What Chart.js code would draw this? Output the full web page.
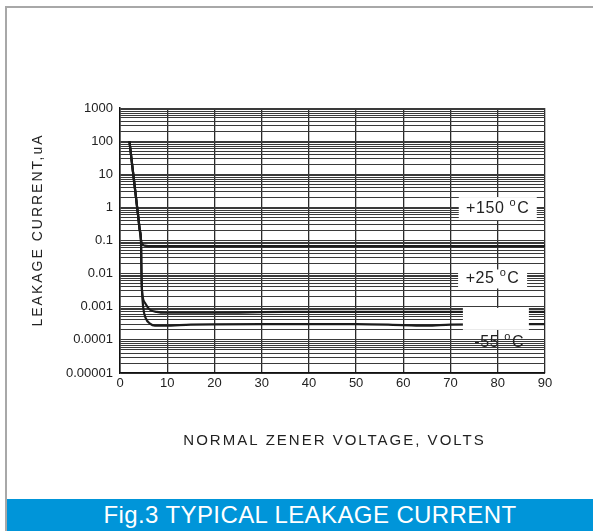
<!DOCTYPE html>
<html>
<head>
<meta charset="utf-8">
<script src="https://cdn.jsdelivr.net/npm/chart.js@4.4.1/dist/chart.umd.min.js"></script>
<style>
  html, body { margin: 0; padding: 0; background: #fff; }
  body { width: 593px; height: 531px; position: relative; overflow: hidden; font-family: "Liberation Sans", Arial, sans-serif; }
  #frame { position: absolute; left: 5px; top: 6px; width: 600px; height: 540px; border-left: 2px solid #a8a8a8; border-top: 2px solid #a8a8a8; }
  #chart { position: absolute; left: 0; top: 0; }
  #caption { position: absolute; left: 7px; top: 499px; width: 586px; height: 32px; background: #0095d9; color: #fff;
             font-size: 24px; line-height: 32px; text-align: center; padding-left: 20px; box-sizing: border-box; letter-spacing: 0.4px; }
</style>
</head>
<body>
<div id="frame"></div>
<canvas id="chart" width="593" height="531"></canvas>
<div id="caption">Fig.3 TYPICAL LEAKAGE CURRENT</div>
<script>
// y tick labels (decades only)
const currentTickLabels = ['0.00001', '0.0001', '0.001', '0.01', '0.1', '1', '10', '100', '1000'];

// +150 C
const hotVolts   = [2, 2.6, 3.2, 3.85, 4.2, 4.45, 4.7, 5.2, 6, 10, 30, 60, 90];
const hotCurrent = [100, 18, 3.4, 0.54, 0.2, 0.1, 0.078, 0.07, 0.068, 0.068, 0.068, 0.068, 0.068];

// +25 C
const roomVolts   = [2, 2.6, 3.2, 3.85, 4.2, 4.45, 4.5, 4.55, 4.65, 5.3, 6.35, 7.8, 9.5, 20, 35, 50, 65, 90];
const roomCurrent = [100, 18, 3.4, 0.54, 0.2, 0.1, 0.03, 0.01, 0.0032, 0.0013, 0.00081, 0.0007, 0.00066, 0.00066, 0.0007, 0.0007, 0.0007, 0.0007];

// -55 C
const coldVolts   = [2, 2.6, 3.2, 3.85, 4.2, 4.45, 4.5, 4.55, 4.65, 4.9, 5.45, 6.35, 7.4, 9.5, 15, 30, 50, 60, 65, 70, 90];
const coldCurrent = [100, 18, 3.4, 0.54, 0.2, 0.1, 0.03, 0.01, 0.0032, 0.001, 0.00045, 0.00031, 0.00027, 0.00027, 0.00029, 0.0003, 0.0003, 0.00028, 0.00027, 0.00029, 0.0003];

const FONT = '"Liberation Sans", Arial, sans-serif';

function toPoints(xs, ys) {
    return xs.map((v, i) => ({ x: v, y: ys[i] }));
}

function curve(label, xs, ys) {
    return {
        label: label,
        data: toPoints(xs, ys),
        borderColor: '#1c1c1c',
        borderWidth: 2.2,
        pointRadius: 0,
        fill: false,
        cubicInterpolationMode: 'monotone'
    };
}

// temperature tags drawn on top of the grid
const tagPlugin = {
    id: 'tags',
    afterDatasetsDraw(chart) {
        const ctx = chart.ctx;
        const x = chart.scales.x, y = chart.scales.y;
        const tags = [
            { text: '+150', vx: 80, vy: 0.92, w: 78, h: 23, box: true },
            { text: '+25', vx: 78.9, vy: 0.0069, w: 69, h: 19, box: true },
            { text: '', vx: 79.6, vy: 0.00043, w: 66, h: 22, box: true },
            { text: '-55', vx: 80.3, vy: 0.000082, box: false }
        ];
        ctx.save();
        tags.forEach(t => {
            const cx = x.getPixelForValue(t.vx);
            const cy = y.getPixelForValue(t.vy);
            if (t.box) {
                ctx.fillStyle = '#fff';
                ctx.fillRect(cx - t.w / 2, cy - t.h / 2, t.w, t.h);
            }
            if (!t.text) return;
            ctx.fillStyle = '#222';
            ctx.textBaseline = 'middle';
            ctx.textAlign = 'left';
            ctx.letterSpacing = '0.6px';
            ctx.font = '16px ' + FONT;
            const main = t.text + ' ';
            const w1 = ctx.measureText(main).width;
            const w3 = ctx.measureText('C').width;
            ctx.font = '11px ' + FONT;
            const w2 = ctx.measureText('o').width;
            let sx = cx - (w1 + w2 + w3 + 1) / 2;
            ctx.font = '16px ' + FONT;
            ctx.fillText(main, sx, cy);
            ctx.font = '11px ' + FONT;
            ctx.fillText('o', sx + w1, cy - 6);
            ctx.font = '16px ' + FONT;
            ctx.fillText('C', sx + w1 + w2 + 1, cy);
        });
        ctx.restore();
    },
    afterDraw(chart) {
        const ctx = chart.ctx;
        const area = chart.chartArea;
        ctx.save();
        ctx.fillStyle = '#222';
        ctx.textAlign = 'center';
        ctx.textBaseline = 'middle';
        ctx.letterSpacing = '2px';
        ctx.font = '14px ' + FONT;
        ctx.translate(38, 230);
        ctx.rotate(-Math.PI / 2);
        ctx.fillText('LEAKAGE CURRENT,uA', 0, 0);
        ctx.restore();

        ctx.save();
        ctx.fillStyle = '#222';
        ctx.textAlign = 'center';
        ctx.textBaseline = 'middle';
        ctx.letterSpacing = '2px';
        ctx.font = '15px ' + FONT;
        ctx.fillText('NORMAL ZENER VOLTAGE, VOLTS', (area.left + area.right) / 2 + 2, 441);
        ctx.restore();
    }
};

const ctx = document.getElementById('chart').getContext('2d');

new Chart(ctx, {
    type: 'line',
    data: {
        datasets: [
            curve('+150 °C', hotVolts, hotCurrent),
            curve('+25 °C', roomVolts, roomCurrent),
            curve('-55 °C', coldVolts, coldCurrent)
        ]
    },
    options: {
        responsive: false,
        animation: false,
        devicePixelRatio: 1,
        layout: {
            padding: { left: 0, right: 48, top: 108, bottom: 0 }
        },
        plugins: {
            legend: { display: false },
            tooltip: { enabled: false },
            title: { display: false }
        },
        scales: {
            x: {
                type: 'linear',
                min: 0,
                max: 90,
                afterFit: s => { s.height = 158; },
                ticks: {
                    stepSize: 10,
                    padding: 3,
                    color: '#222',
                    font: { family: FONT, size: 13 }
                },
                grid: {
                    color: '#2a2a2a',
                    lineWidth: 1.3,
                    drawTicks: false
                },
                border: { color: '#111', width: 1.2 }
            },
            y: {
                type: 'logarithmic',
                min: 0.00001,
                max: 1000,
                afterFit: s => { s.width = 120; },
                afterBuildTicks: s => {
                    const list = [];
                    for (let e = -5; e < 3; e++) {
                        for (let m = 1; m < 10; m++) {
                            list.push({ value: Number((m * Math.pow(10, e)).toPrecision(3)) });
                        }
                    }
                    list.push({ value: 1000 });
                    s.ticks = list;
                },
                ticks: {
                    autoSkip: false,
                    padding: 7,
                    color: '#222',
                    font: { family: FONT, size: 13 },
                    callback: v => {
                        const e = Math.round(Math.log10(v));
                        if (Math.abs(v - Math.pow(10, e)) / Math.pow(10, e) > 1e-6) return '';
                        return currentTickLabels[e + 5];
                    }
                },
                grid: {
                    color: '#3a3a3a',
                    lineWidth: 1,
                    drawTicks: false
                },
                border: { color: '#111', width: 1.5 }
            }
        }
    },
    plugins: [tagPlugin]
});
</script>
</body>
</html>
